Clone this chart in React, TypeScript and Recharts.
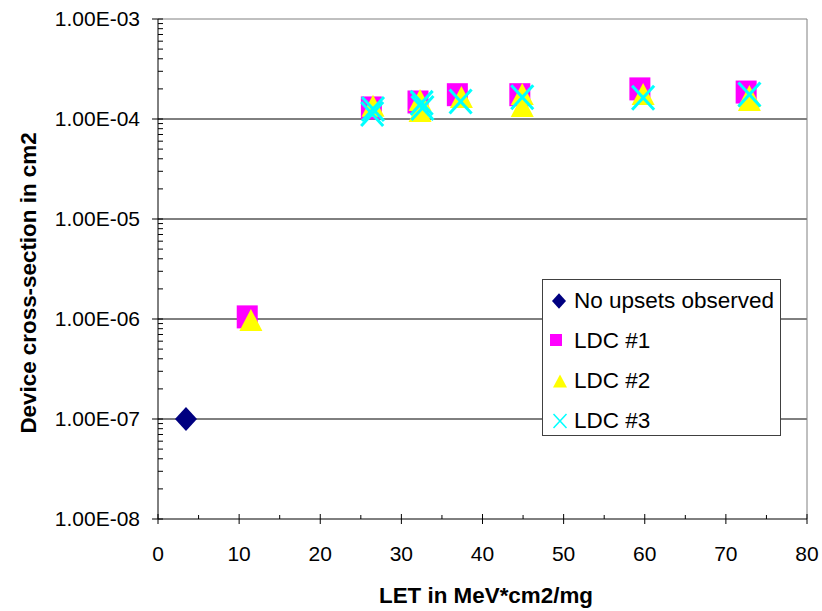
import React from 'react';
import { ScatterChart, Scatter, XAxis, YAxis, ReferenceLine, Legend } from 'recharts';

const FONT = '"Liberation Sans", Arial, sans-serif';

// axis ticks
const xMajorTicks = [0, 10, 20, 30, 40, 50, 60, 70, 80];
const xMinorTicks = [5, 15, 25, 35, 45, 55, 65, 75];
const yMajorTicks = [1e-8, 1e-7, 1e-6, 1e-5, 1e-4, 1e-3];
const minorSteps = [2, 3, 4, 5, 6, 7, 8, 9];
const yGridLines = [1e-7, 1e-6, 1e-5, 1e-4];

// series (LET, cross-section)
const noUpsets = [{ x: 3.45, y: 1.0e-7 }];
const ldc1 = [
  { x: 11.0, y: 1.05e-6 },
  { x: 26.3, y: 1.29e-4 },
  { x: 32.05, y: 1.48e-4 },
  { x: 36.9, y: 1.75e-4 },
  { x: 44.6, y: 1.75e-4 },
  { x: 59.4, y: 2.0e-4 },
  { x: 72.5, y: 1.86e-4 },
];
const ldc2 = [
  { x: 11.45, y: 0.98e-6 },
  { x: 26.5, y: 1.36e-4 },
  { x: 32.3, y: 1.55e-4 },
  { x: 32.3, y: 1.2e-4 },
  { x: 37.4, y: 1.66e-4 },
  { x: 44.9, y: 1.78e-4 },
  { x: 44.9, y: 1.35e-4 },
  { x: 59.8, y: 1.78e-4 },
  { x: 72.9, y: 1.7e-4 },
  { x: 72.9, y: 1.55e-4 },
];
const ldc3 = [
  { x: 26.5, y: 1.26e-4 },
  { x: 26.4, y: 1.12e-4 },
  { x: 32.5, y: 1.45e-4 },
  { x: 32.6, y: 1.29e-4 },
  { x: 37.3, y: 1.5e-4 },
  { x: 44.9, y: 1.65e-4 },
  { x: 59.8, y: 1.63e-4 },
  { x: 72.9, y: 1.76e-4 },
];

const seriesNames = ['No upsets observed', 'LDC #1', 'LDC #2', 'LDC #3'];

const xTicks = [...xMajorTicks, ...xMinorTicks].sort((a, b) => a - b);
const yTicks = [
  ...yMajorTicks,
  ...yMajorTicks.slice(0, -1).flatMap((d) => minorSteps.map((m) => m * d)),
].sort((a, b) => a - b);

const fmtSci = (v: number) => {
  const [m, e] = v.toExponential(2).split('e');
  const n = parseInt(e, 10);
  return `${m}E${n < 0 ? '-' : '+'}${String(Math.abs(n)).padStart(2, '0')}`;
};

const isMajorY = (v: number) =>
  yMajorTicks.some((t) => Math.abs(Math.log10(t) - Math.log10(v)) < 1e-6);

const renderYTick = ({ x, y, payload }: any) => {
  if (!isMajorY(payload.value)) {
    return <line x1={x} x2={x + 5} y1={y} y2={y} stroke="#000" />;
  }
  return (
    <g>
      <line x1={x - 6} x2={x + 5} y1={y} y2={y} stroke="#000" />
      <text x={x - 18} y={y + 7} textAnchor="end" fontSize={21} fontFamily={FONT} fill="#000">
        {fmtSci(payload.value)}
      </text>
    </g>
  );
};

const renderXTick = ({ x, y, payload }: any) => {
  if (!xMajorTicks.includes(payload.value)) {
    return <line x1={x} x2={x} y1={y - 4} y2={y} stroke="#000" />;
  }
  return (
    <g>
      <line x1={x} x2={x} y1={y - 5} y2={y + 5} stroke="#000" />
      <text x={x} y={y + 42} textAnchor="middle" fontSize={21} fontFamily={FONT} fill="#000">
        {payload.value}
      </text>
    </g>
  );
};

const renderXLabel = () => (
  <text x={486} y={603} textAnchor="middle" fontSize={22.4} fontWeight="bold" fontFamily={FONT} fill="#000">
    LET in MeV*cm2/mg
  </text>
);

const renderYLabel = () => (
  <text
    x={36}
    y={283}
    transform="rotate(-90 36 283)"
    textAnchor="middle"
    fontSize={22.4}
    fontWeight="bold"
    fontFamily={FONT}
    fill="#000"
  >
    Device cross-section in cm2
  </text>
);

// marker shapes
const Diamond = ({ cx, cy, r = 11 }: any) => (
  <polygon
    points={`${cx},${cy - r * 1.09} ${cx + r},${cy} ${cx},${cy + r * 1.09} ${cx - r},${cy}`}
    fill="#000080"
  />
);
const Square = ({ cx, cy, w = 21, h = 23 }: any) => (
  <rect x={cx - w / 2} y={cy - h / 2} width={w} height={h} fill="#FF00FF" />
);
const Triangle = ({ cx, cy, w = 23, h = 22 }: any) => (
  <polygon
    points={`${cx},${cy - h / 2} ${cx + w / 2},${cy + h / 2} ${cx - w / 2},${cy + h / 2}`}
    fill="#FFFF00"
  />
);
const Cross = ({ cx, cy, w = 22, h = 24, sw = 3 }: any) => (
  <g stroke="#00FFFF" strokeWidth={sw}>
    <line x1={cx - w / 2} y1={cy - h / 2} x2={cx + w / 2} y2={cy + h / 2} />
    <line x1={cx - w / 2} y1={cy + h / 2} x2={cx + w / 2} y2={cy - h / 2} />
  </g>
);

const legendIcons = [
  <Diamond cx={16} cy={10} r={7} />,
  <Square cx={13} cy={9} w={12} h={12} />,
  <Triangle cx={17} cy={10} w={14} h={13} />,
  <Cross cx={17} cy={10} w={13} h={14} sw={1.5} />,
];

const renderLegend = () => (
  <div
    style={{
      width: 239,
      height: 157,
      boxSizing: 'border-box',
      border: '1px solid #404040',
      background: '#fff',
      paddingTop: 1,
      fontFamily: FONT,
      fontSize: 22.5,
      color: '#000',
    }}
  >
    {seriesNames.map((name, i) => (
      <div key={name} style={{ height: 40, display: 'flex', alignItems: 'center', position: 'relative' }}>
        <svg width={31} height={20} style={{ flex: 'none' }}>
          {legendIcons[i]}
        </svg>
        <span style={{ lineHeight: '40px', whiteSpace: 'nowrap' }}>{name}</span>
      </div>
    ))}
  </div>
);

export default function App() {
  return (
    <div style={{ position: 'absolute', left: 0, top: 0, background: '#fff' }}>
      <ScatterChart width={822} height={611} margin={{ top: 19, right: 15, bottom: 10, left: 5 }}>
        <XAxis
          type="number"
          dataKey="x"
          domain={[0, 80]}
          ticks={xTicks}
          interval={0}
          allowDataOverflow
          height={82}
          tickSize={0}
          tickMargin={0}
          tickLine={false}
          tick={renderXTick}
          axisLine={{ stroke: '#000' }}
          label={renderXLabel}
        />
        <YAxis
          type="number"
          dataKey="y"
          scale="log"
          domain={[1e-8, 1e-3]}
          ticks={yTicks}
          interval={0}
          allowDataOverflow
          width={153}
          tickSize={0}
          tickMargin={0}
          tickLine={false}
          tick={renderYTick}
          axisLine={{ stroke: '#000' }}
          label={renderYLabel}
        />
        {yGridLines.map((v) => (
          <ReferenceLine key={v} y={v} stroke="#000" />
        ))}
        <ReferenceLine y={1e-3} stroke="#808080" />
        <ReferenceLine x={80} stroke="#808080" />
        <Scatter name={seriesNames[0]} data={noUpsets} shape={(p: any) => <Diamond cx={p.cx} cy={p.cy} />} isAnimationActive={false} />
        <Scatter name={seriesNames[1]} data={ldc1} shape={(p: any) => <Square cx={p.cx} cy={p.cy} />} isAnimationActive={false} />
        <Scatter name={seriesNames[2]} data={ldc2} shape={(p: any) => <Triangle cx={p.cx} cy={p.cy} />} isAnimationActive={false} />
        <Scatter name={seriesNames[3]} data={ldc3} shape={(p: any) => <Cross cx={p.cx} cy={p.cy} />} isAnimationActive={false} />
        <Legend
          layout="vertical"
          align="center"
          verticalAlign="middle"
          content={renderLegend}
          wrapperStyle={{ left: 542, top: 279, width: 239, height: 157 }}
        />
      </ScatterChart>
    </div>
  );
}
